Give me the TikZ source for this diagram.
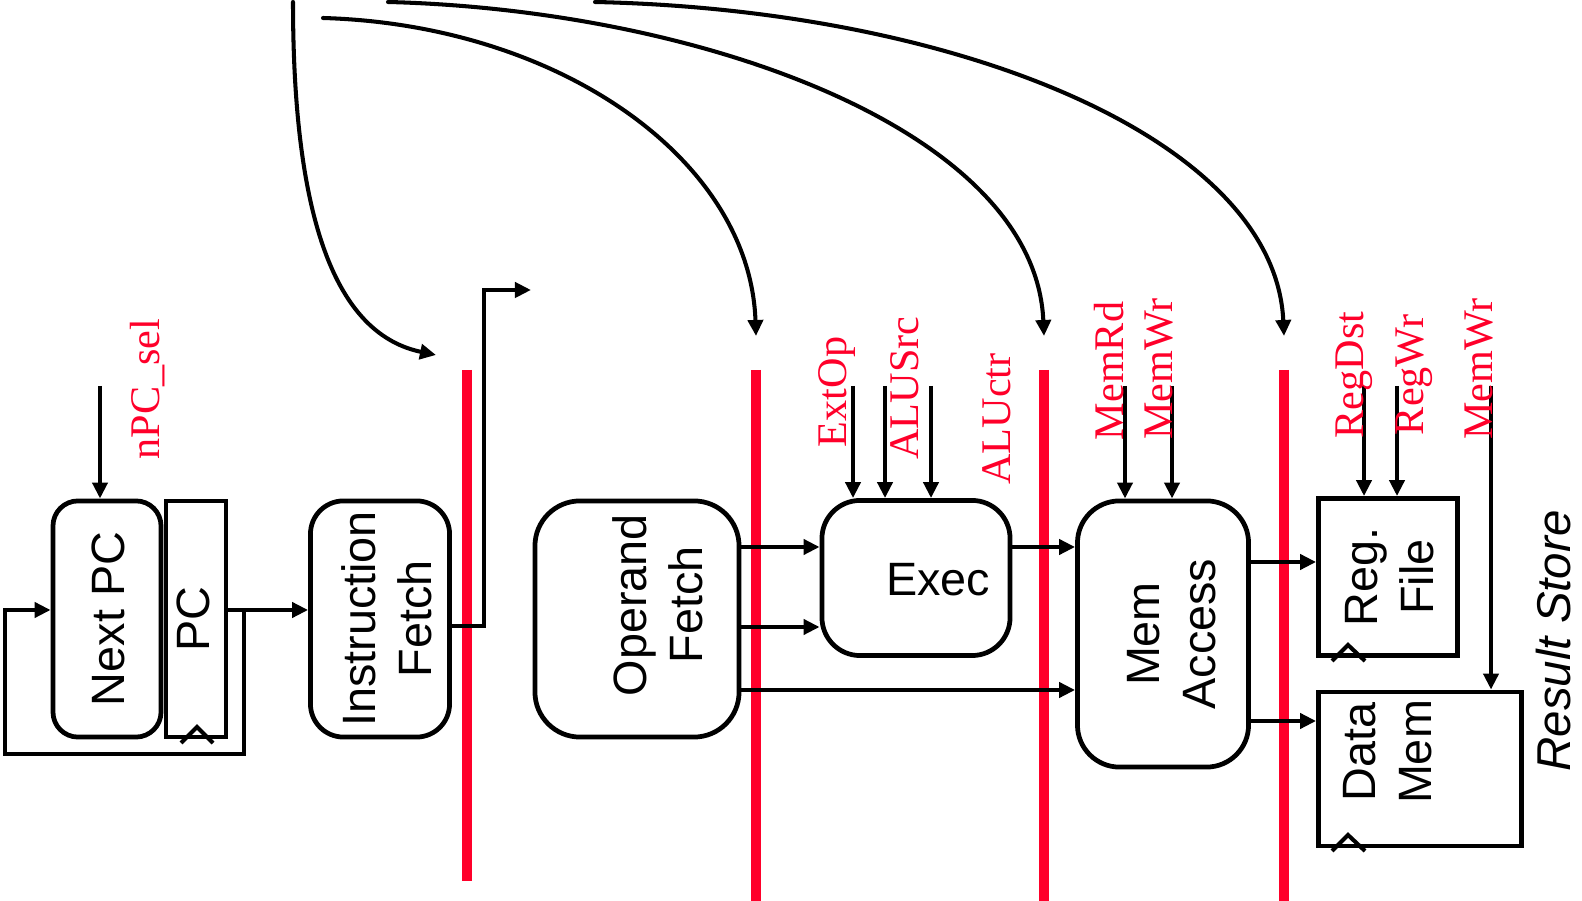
\documentclass[tikz,border=0pt]{standalone}
\usepackage{fontspec}
\setmainfont{Liberation Serif}
\setsansfont{Liberation Sans}
\usetikzlibrary{arrows.meta,positioning,calc}
\definecolor{ctlred}{RGB}{255,0,42}
\newcommand{\vtext}[2][0.12cm]{\hspace*{#1}\rotatebox{90}{\begin{tabular}{@{}c@{}}#2\end{tabular}}}

\begin{document}
\begin{tikzpicture}[
  x=0.01cm, y=-0.01cm,
  every node/.style={font=\sffamily\fontsize{13.3}{16}\selectfont, inner sep=0pt},
  stagebox/.style={draw,line width=1.35pt,rounded corners=#1,minimum height=2.36cm},
  stagebox/.default=0.35cm,
  statebox/.style={draw,line width=1.35pt},
  sig/.style={line width=1.15pt,-{Triangle[length=0.16cm,width=0.15cm]}},
  ctl/.style={font=\rmfamily\fontsize{12}{14}\selectfont,text=ctlred,rotate=90},
  pipereg/.style={draw=ctlred,line width=0.1cm},
  clk/.style={line width=1.15pt},
]
  \useasboundingbox (0,0) rectangle (1582,901);

  % Stages
  \node[stagebox=0.25cm,minimum width=1.08cm] (npc) at (107,619) {\vtext{Next PC}};
  \node[statebox,minimum width=0.60cm,minimum height=2.36cm] (pc) at (196,619) {};
  \node (pctxt) at (198,619) {\vtext[0cm]{PC}};
  \node[stagebox=0.33cm,minimum width=1.39cm] (ifetch) at (380,619) {\vtext[0.24cm]{Instruction\\Fetch}};
  \node[stagebox=0.45cm,minimum width=2.04cm] (ofetch) at (637,619) {};
  \node (oftxt) at (663,605) {\vtext[0cm]{Operand\\Fetch}};
  \node[stagebox=0.38cm,minimum width=1.88cm,minimum height=1.55cm] (exec) at (916,578) {};
  \node (extxt) at (938,580) {Exec};
  \node[stagebox=0.42cm,minimum width=1.71cm,minimum height=2.66cm] (mem) at (1163,634) {\vtext[0.26cm]{Mem\\Access}};
  \node[statebox,minimum width=1.39cm,minimum height=1.57cm] (rf) at (1388,577) {\vtext{Reg.\\File}};
  \node[statebox,minimum width=2.03cm,minimum height=1.54cm] (dm) at (1420,769) {};
  \node (dmtxt) at (1392,752) {\vtext[0cm]{Data\\Mem}};
  \node[font=\sffamily\itshape\fontsize{13.5}{16}\selectfont,rotate=90] (rstore) at (1554,641) {Result Store};

  % Clock marks
  \draw[clk] (181,743) -- (197,727) -- (213,743);
  \draw[clk] (1332,661) -- (1348,645) -- (1365,661);
  \draw[clk] (1332,851) -- (1348,835) -- (1365,851);

  % Pipeline registers
  \draw[pipereg] (467,370) -- (467,881);
  \foreach \px in {756,1044,1284}
    \draw[pipereg] (\px,370) -- (\px,901);

  % Datapath
  \draw[sig] (pc.east |- 0,610) -- (ifetch.west |- 0,610);
  \draw[sig] (244,610) |- (5,754) |- (npc.west |- 0,610);
  \coordinate (ifout) at (531,290);
  \draw[sig] (ifetch.east |- 0,626) -| (484,290) -- (ifout);
  \draw[sig] (ofetch.east |- 0,547) -- (exec.west |- 0,547);
  \draw[sig] (ofetch.east |- 0,627) -- (exec.west |- 0,627);
  \draw[sig] (ofetch.east |- 0,690) -- (mem.west |- 0,690);
  \draw[sig] (exec.east |- 0,547) -- (mem.west |- 0,547);
  \draw[sig] (mem.east |- 0,562) -- (rf.west |- 0,562);
  \draw[sig] (mem.east |- 0,721) -- (dm.west |- 0,721);

  % Control inputs
  \coordinate (cnpc) at (100,386);
  \coordinate (cext) at (853,386);
  \coordinate (csrc) at (885,386);
  \coordinate (cctr) at (931,386);
  \coordinate (crd) at (1125,386);
  \coordinate (cwr) at (1172,386);
  \coordinate (cdst) at (1364,386);
  \coordinate (crwr) at (1397,386);
  \coordinate (cmwr) at (1491,386);
  \draw[sig] (cnpc) -- (cnpc |- npc.north);
  \foreach \c in {cext,csrc,cctr}
    \draw[sig] (\c) -- (\c |- exec.north);
  \foreach \c in {crd,cwr}
    \draw[sig] (\c) -- (\c |- mem.north);
  \foreach \c in {cdst,crwr}
    \draw[sig] (\c) -- (\c |- rf.north);
  \draw[sig] (cmwr) -- (cmwr |- dm.north);

  % Control labels
  \node[ctl] (lnpc) at (148,389) {nPC\_sel};
  \node[ctl] (lext) at (837,392) {ExtOp};
  \node[ctl] (lsrc) at (905,388) {ALUSrc};
  \node[ctl] (lctr) at (997,419) {ALUctr};
  \node[ctl] (lrd) at (1109,371) {MemRd};
  \node[ctl] (lwr) at (1159,369) {MemWr};
  \node[ctl] (ldst) at (1354,375) {RegDst};
  \node[ctl] (lrwr) at (1414,375) {RegWr};
  \node[ctl] (lmwr) at (1479,369) {MemWr};

  % Decoded control fan-out
  \coordinate (d1) at (293,2);
  \coordinate (d2) at (323,18);
  \coordinate (d3) at (388,2);
  \coordinate (d4) at (595,2);
  \coordinate (e1) at (436,355);
  \coordinate (e2) at (756,336);
  \coordinate (e3) at (1044,336);
  \coordinate (e4) at (1284,336);
  \draw[sig,line cap=round] (d1) .. controls (293,230) and (340,335) .. (e1);
  \draw[sig,line cap=round] (d2) .. controls (560,25) and (750,160) .. (e2);
  \draw[sig,line cap=round] (d3) .. controls (700,10) and (1035,130) .. (e3);
  \draw[sig,line cap=round] (d4) .. controls (960,10) and (1275,140) .. (e4);
\end{tikzpicture}
\end{document}
